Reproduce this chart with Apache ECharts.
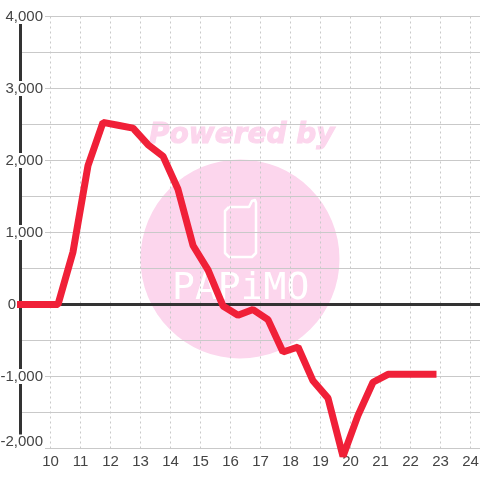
<!DOCTYPE html>
<html><head><meta charset="utf-8">
<style>html,body{margin:0;padding:0;background:#fff}#c{width:480px;height:480px}</style>
<script src="https://cdn.jsdelivr.net/npm/echarts@6/dist/echarts.min.js"></script>
</head><body><div id="c"></div>
<script>
const hours = [9,9.25,9.75,10.25,10.75,11.25,11.75,12.25,12.75,13.25,13.75,14.25,14.75,15.25,15.75,16.25,16.75,17.25,17.75,18.25,18.75,19.25,19.75,20.25,20.75,21.25,21.75,22.25,22.75];
const values = [0,0,0,0,730,1930,2530,2490,2450,2220,2060,1600,820,480,-20,-150,-70,-210,-660,-590,-1060,-1300,-2110,-1540,-1080,-970,-970,-970,-970];
const yTicks = {min:-2000,max:4000,step:1000};
const xTicks = {min:9,max:24.317,step:1};
const watermarkTop = 'Powered by';
const watermarkBrand = 'PAPiMO';

const chart = echarts.init(document.getElementById('c'),null,{renderer:'canvas'});
const pink='#fcd6ed', gridC='#c9c9c9', dark='#333333', labelC='#444444', font='"Liberation Sans"';
const tok={color:labelC,fontFamily:font,fontSize:15,lineHeight:14};
chart.setOption({
  animation:false,
  grid:{left:20.5,right:0,top:16.5,bottom:31.5,containLabel:false,outerBoundsMode:'none'},
  graphic:[
    {type:'circle',z:-1,silent:true,shape:{cx:240,cy:259,r:99.5},style:{fill:pink}},
    {type:'text',z:-1,silent:true,x:149,y:122,style:{text:watermarkTop,fill:pink,stroke:pink,lineWidth:1,font:'italic bold 28px "DejaVu Sans"'}},
    {type:'polyline',z:-1,silent:true,shape:{points:[[229,207],[249,207],[252,201],[255,200],[256,203],[256,253],[252,257],[229,257],[225,253],[225,211],[229,207]]},style:{fill:'none',stroke:'#fff',lineWidth:2.5,lineJoin:'round'}},
    {type:'text',z:-1,silent:true,x:172,y:270,style:{text:watermarkBrand,fill:'#fff',stroke:pink,lineWidth:1,strokeFirst:false,font:'38px "DejaVu Sans Mono"'}}
  ],
  xAxis:[{
    type:'value',min:xTicks.min,max:xTicks.max,interval:xTicks.step,position:'bottom',
    axisLine:{show:false,onZero:false},axisTick:{show:false},
    axisLabel:{color:labelC,fontFamily:font,fontSize:15,margin:6,showMinLabel:false,showMaxLabel:false},
    splitLine:{show:true,lineStyle:{color:gridC,width:1,type:[2,3]}}
  },{
    type:'value',min:xTicks.min,max:xTicks.max,interval:xTicks.step,position:'top',
    axisLine:{show:true,onZero:true,lineStyle:{color:dark,width:3}},
    axisTick:{show:false},axisLabel:{show:false},splitLine:{show:false}
  }],
  yAxis:{
    type:'value',min:yTicks.min,max:yTicks.max,interval:yTicks.step,
    axisLine:{show:true,onZero:false,lineStyle:{color:dark,width:3}},axisTick:{show:false},
    axisLabel:{inside:true,align:'right',margin:24.5,
      formatter:v=>{const s=v.toLocaleString('en-US');return v===0?'{z|'+s+'}':v===yTicks.min?'{m|'+s+'}':'{n|'+s+'}';},
      rich:{
        n:{...tok,backgroundColor:'#fff',padding:[0,2,0,2]},
        m:{...tok,backgroundColor:'#fff',padding:[0,2,13,2]},
        z:{...tok,padding:[0,29,0,0]}
      }},
    splitLine:{show:true,lineStyle:{color:gridC,width:1}},
    minorTick:{show:false,splitNumber:2},
    minorSplitLine:{show:true,lineStyle:{color:gridC,width:1}}
  },
  series:[{
    type:'line',xAxisIndex:0,clip:false,symbol:'none',z:5,
    data:hours.map((h,i)=>[h,values[i]]),
    lineStyle:{color:'#f02038',width:7,cap:'square',join:'bevel'}
  }]
});
</script></body></html>
